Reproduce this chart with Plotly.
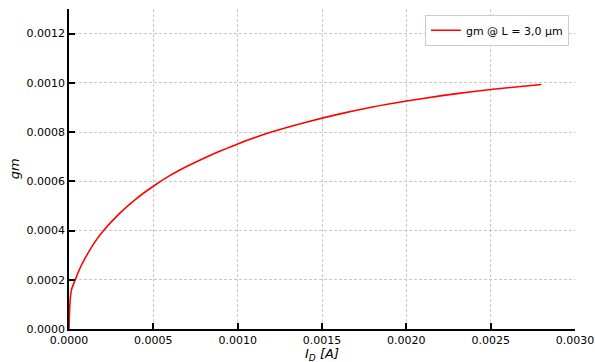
import plotly.graph_objects as go

# Drain current I_D [A] and transconductance gm [S]
id_a = [0, 2e-6, 7e-6, 1.5e-5, 3.7e-5, 7e-5, 1e-4, 1.5e-4, 2e-4, 3e-4, 4e-4,
        5e-4, 6e-4, 7e-4, 8e-4, 9e-4, 1.0e-3, 1.2e-3, 1.4e-3, 1.6e-3, 1.8e-3,
        2.0e-3, 2.2e-3, 2.4e-3, 2.6e-3, 2.8e-3]
gm_s = [0, 5e-5, 1.2e-4, 1.6e-4, 2.0e-4, 2.54e-4, 2.93e-4, 3.5e-4, 3.96e-4,
        4.7e-4, 5.3e-4, 5.8e-4, 6.24e-4, 6.61e-4, 6.94e-4, 7.24e-4, 7.52e-4,
        8.0e-4, 8.39e-4, 8.73e-4, 9.02e-4, 9.26e-4, 9.47e-4, 9.65e-4, 9.8e-4,
        9.93e-4]

x_ticks = [0, 0.0005, 0.001, 0.0015, 0.002, 0.0025, 0.003]
y_ticks = [0, 0.0002, 0.0004, 0.0006, 0.0008, 0.0010, 0.0012]

font = "DejaVu Sans"

fig = go.Figure()
fig.add_trace(go.Scatter(
    x=id_a, y=gm_s, mode="lines",
    line=dict(color="red", width=1.6, shape="spline", smoothing=0.6),
    name="gm @ L = 3,0 µm",
))

axis_common = dict(
    showline=True, linecolor="black", linewidth=1.5, mirror=False,
    ticks="inside", ticklen=6, tickwidth=1.5, tickcolor="black",
    showgrid=True, gridcolor="#c8c8c8", gridwidth=0.8, griddash="3px,2px",
    zeroline=False, tickformat=".4f", automargin=False,
    tickfont=dict(family=font, size=11, color="black"),
)

fig.update_xaxes(range=[0, 0.003], tickvals=x_ticks, **axis_common)
fig.update_yaxes(range=[0, 0.0013], tickvals=y_ticks, **axis_common)

# Axis titles placed as paper-anchored annotations
title_font = dict(family=font, size=13, color="black")
fig.add_annotation(text="<i>I<sub>D</sub> [A]</i>", xref="paper", yref="paper",
                   x=0.5, y=-0.1, xanchor="center", yanchor="bottom", yshift=-4,
                   showarrow=False, font=title_font)
fig.add_annotation(text="<i>gm</i>", xref="paper", yref="paper",
                   x=-0.108, y=0.5, xanchor="center", yanchor="middle",
                   textangle=-90, showarrow=False, font=title_font)

fig.update_layout(
    width=595, height=362,
    margin=dict(l=69, r=20, t=9, b=33),
    plot_bgcolor="white", paper_bgcolor="white",
    font=dict(family=font, size=11, color="black"),
    showlegend=True,
    legend=dict(x=0.988, y=0.982, xanchor="right", yanchor="top",
                bgcolor="white", bordercolor="#cccccc", borderwidth=1,
                font=dict(family=font, size=11, color="black")),
)

fig.write_html("out.html")
